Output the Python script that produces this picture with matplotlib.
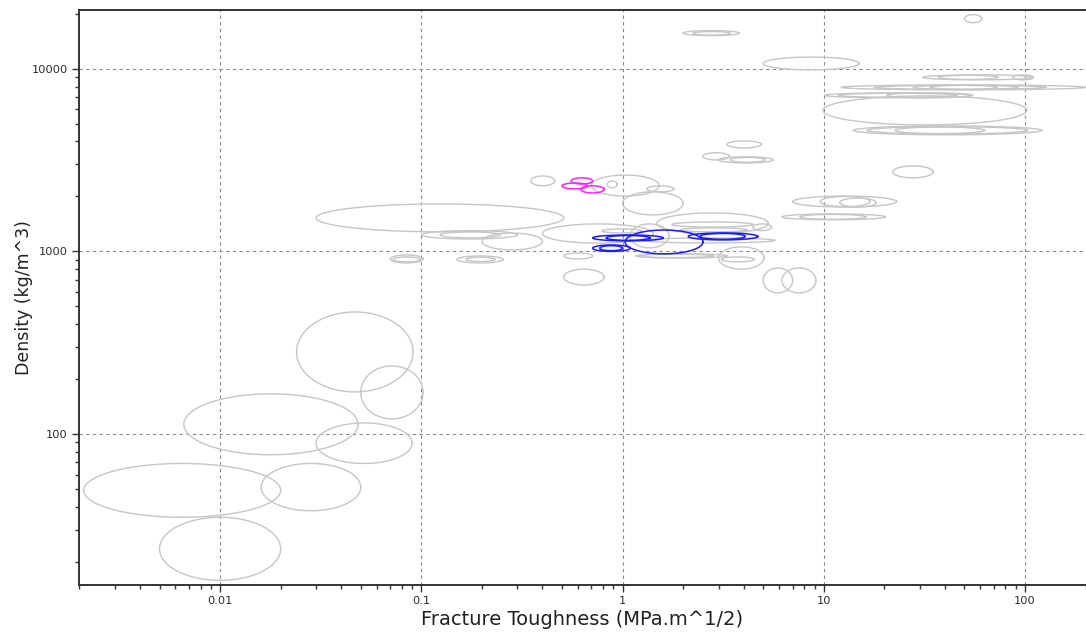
import numpy as np
import matplotlib
matplotlib.use("Agg")
import matplotlib.pyplot as plt
###############################################################################
""" Datos: rangos de cada material (K1c min, K1c max, densidad min, densidad max) """
###############################################################################
# tenacidad en MPa.m^1/2, densidad en kg/m^3
grey_ranges = [
    # espumas y materiales de baja densidad
    (0.024, 0.091, 170, 466),
    (0.050, 0.102, 121, 236),
    (0.0066, 0.0485, 77, 166),
    (0.030, 0.090, 69, 115),
    (0.016, 0.050, 38, 69),
    (0.0021, 0.020, 35, 69),
    (0.0050, 0.020, 15.8, 35),
    # polimeros, maderas, elastomeros
    (0.030, 0.51, 1280, 1820),
    (0.10, 0.30, 1170, 1300),
    (0.124, 0.246, 1186, 1279),
    (0.20, 0.40, 1020, 1260),
    (0.070, 0.102, 865, 957),
    (0.0725, 0.0986, 876, 933),
    (0.15, 0.255, 865, 945),
    (0.167, 0.232, 880, 930),
    (0.35, 0.46, 2290, 2590),
    (0.70, 1.52, 2010, 2620),
    (0.84, 0.94, 2230, 2430),
    (1.32, 1.80, 2120, 2285),
    (1.0, 2.0, 1585, 2120),
    (1.48, 5.3, 1250, 1625),
    (1.76, 4.45, 1360, 1450),
    (4.45, 5.5, 1300, 1415),
    (1.93, 4.16, 1280, 1345),
    (1.09, 1.70, 1046, 1415),
    (0.40, 1.42, 1110, 1415),
    (0.79, 1.25, 1263, 1328),
    (1.26, 5.7, 1113, 1186),
    (1.18, 3.3, 920, 970),
    (1.16, 2.82, 925, 965),
    (3.0, 5.05, 800, 1060),
    (3.1, 4.5, 876, 933),
    (0.51, 0.71, 910, 980),
    (0.51, 0.81, 655, 800),
    (5.0, 7.0, 593, 812),
    (6.2, 9.15, 593, 812),
    # ceramicas, vidrios, compuestos
    (22, 35, 2530, 2940),
    (7.0, 23, 1750, 2010),
    (9.6, 17, 1760, 2000),
    (12, 18.2, 1750, 1960),
    (6.2, 20.2, 1490, 1605),
    (7.6, 16.2, 1500, 1595),
    # metales
    (2.0, 3.8, 15200, 16200),
    (2.24, 3.42, 15300, 16000),
    (5.0, 15, 9870, 11600),
    (50, 61, 17900, 19800),
    (3.3, 4.9, 3690, 4030),
    (2.5, 3.4, 3170, 3470),
    (3.0, 5.6, 3050, 3300),
    (3.42, 5.11, 3080, 3270),
    (31, 110, 8700, 9270),
    (37, 73.4, 8750, 9220),
    (87, 110, 8700, 9270),
    (12.2, 199, 7670, 8170),
    (17.8, 127, 7720, 8120),
    (27.8, 92, 7700, 8150),
    (33.7, 72.6, 7720, 8120),
    (10.1, 54.5, 6940, 7390),
    (11.8, 45.9, 6980, 7350),
    (20.6, 54.5, 6940, 7390),
    (9.9, 102, 4930, 7110),
    (14, 121, 4350, 4870),
    (16.4, 103, 4400, 4820),
    (22.6, 63, 4420, 4800),
]

blue_ranges = [
    (0.71, 1.59, 1142, 1231),
    (0.828, 1.37, 1150, 1222),
    (0.71, 1.09, 1000, 1085),
    (0.77, 1.0, 1010, 1075),
    (1.03, 2.51, 970, 1310),
    (2.12, 4.7, 1156, 1263),
    (2.43, 4.06, 1165, 1255),
]

pink_ranges = [
    (0.555, 0.71, 2340, 2530),
    (0.50, 0.67, 2200, 2370),
    (0.62, 0.81, 2090, 2290),
]

###############################################################################
""" Funciones """
###############################################################################
# elipse en espacio logaritmico que cubre el rango del material
def elipse_log(xlo, xhi, ylo, yhi, n=200):
    t = np.linspace(0, 2*np.pi, n)
    cx = (np.log10(xlo) + np.log10(xhi))/2
    rx = (np.log10(xhi) - np.log10(xlo))/2
    cy = (np.log10(ylo) + np.log10(yhi))/2
    ry = (np.log10(yhi) - np.log10(ylo))/2
    return 10**(cx + rx*np.cos(t)), 10**(cy + ry*np.sin(t))

###############################################################################
""" Ploteo """
###############################################################################
plt.rcParams['font.family'] = ['DejaVu Sans']

fig = plt.figure(figsize=(10.86, 6.32), dpi=100)
ax = fig.add_axes([79/1086, 1-585/632, 1-79/1086, (585-10)/632])

for r in grey_ranges:
    x, y = elipse_log(*r)
    ax.plot(x, y, color='#c6c6c6', lw=1.0)
for r in blue_ranges:
    x, y = elipse_log(*r)
    ax.plot(x, y, color='#1a1aff', lw=1.1)
for r in pink_ranges:
    x, y = elipse_log(*r)
    ax.plot(x, y, color='#ff20ff', lw=1.1)

ax.set_xscale('log')
ax.set_yscale('log')
ax.set_xlim(0.00199, 201)
ax.set_ylim(14.9, 21000)

ax.set_xticks([0.01, 0.1, 1, 10, 100])
ax.set_xticklabels(['0.01', '0.1', '1', '10', '100'])
ax.set_yticks([100, 1000, 10000])
ax.set_yticklabels(['100', '1000', '10000'])

ax.grid(True, which='major', color='#8a8a8a', linestyle=(0, (3, 3)), lw=0.8)
ax.tick_params(which='major', direction='out', length=5, width=1, color='#333333',
               labelsize=8.2, labelcolor='#2a2a2a', pad=3)
ax.tick_params(which='minor', direction='out', length=3, width=1, color='#333333')

for s in ['left', 'bottom', 'top']:
    ax.spines[s].set_color('#333333')
    ax.spines[s].set_linewidth(1.4)
ax.spines['right'].set_visible(False)

ax.set_xlabel('Fracture Toughness (MPa.m^1/2)', fontsize=14, color='#222222', labelpad=3)
ax.set_ylabel('Density (kg/m^3)', fontsize=12.5, color='#222222', labelpad=-1)

plt.savefig('out.png', dpi=100)
